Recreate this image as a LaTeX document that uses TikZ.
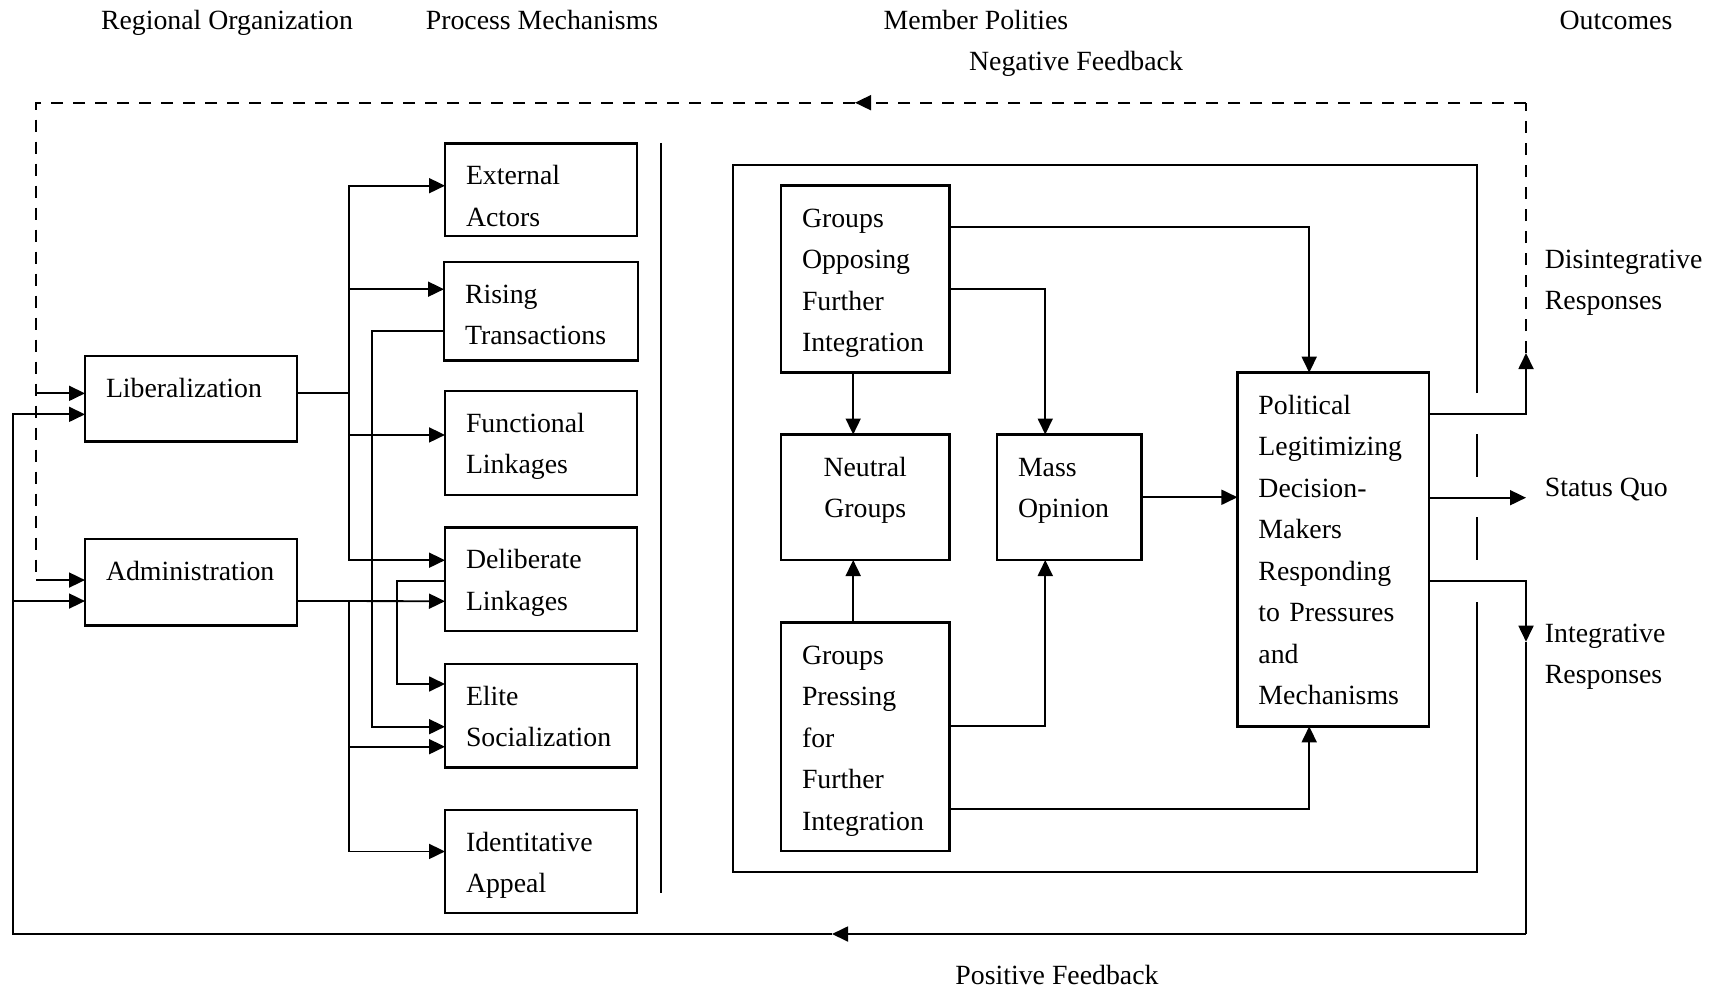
\documentclass[tikz,border=0pt]{standalone}
\usepackage{fontspec}
\setmainfont{Liberation Serif}
\usetikzlibrary{arrows.meta, positioning, calc}

\begin{document}
\begin{tikzpicture}[x=0.5pt, y=-0.5pt, >={Triangle[length=8pt, width=7.5pt]}, line width=0.9pt,
  font=\fontsize{13.9pt}{20.75pt}\selectfont,
  box/.style={draw, line width=1.25pt, align=left, inner xsep=10.5pt, inner ysep=0pt, outer sep=0pt, text height=20.75pt},
  lbl/.style={inner sep=0pt, align=left},
  fbdash/.style={dash pattern=on 6pt off 5pt}]
  \useasboundingbox (0,0) rectangle (1713,990);

  % column headings
  \node [lbl, anchor=base] (hreg) at (227,29.5) {Regional Organization};
  \node [lbl, anchor=base] (hproc) at (542,29.5) {Process Mechanisms};
  \node [lbl, anchor=base] (hmem) at (976,29.5) {Member Polities};
  \node [lbl, anchor=base] (hout) at (1616,29.5) {Outcomes};
  \node [lbl, anchor=base] (negfb) at (1076,70.5) {Negative Feedback};
  \node [lbl, anchor=base] (posfb) at (1057,984) {Positive Feedback};

  % regional organization
  \node [box, minimum width=106pt, minimum height=42.75pt, text width=85pt, text depth=22pt]
    (lib) at (191,398.75) {Liberalization};
  \node [box, minimum width=106pt, minimum height=43.25pt, text width=85pt, text depth=22.5pt,
    below=48.75pt of lib] (adm) {Administration};

  % process mechanisms
  \node [box, minimum width=96pt, minimum height=46.25pt, text width=75pt, text depth=25.5pt] (ext) at (541,189.7) {External\\Actors};
  \node [box, minimum width=97pt, minimum height=49.25pt, text width=76pt, text depth=28.5pt, below=13pt of ext] (ris) {Rising\\Transactions};
  \node [box, minimum width=96pt, minimum height=52pt, text width=75pt, text depth=31.25pt, below=15.25pt of ris] (fun) {Functional\\Linkages};
  \node [box, minimum width=96pt, minimum height=51.75pt, text width=75pt, text depth=31pt, below=16.25pt of fun] (del) {Deliberate\\Linkages};
  \node [box, minimum width=96pt, minimum height=51.75pt, text width=75pt, text depth=31pt, below=16.5pt of del] (eli) {Elite\\Socialization};
  \node [box, minimum width=96pt, minimum height=51.5pt, text width=75pt, text depth=30.75pt, below=21.25pt of eli] (ide) {Identitative\\Appeal};

  \draw (661,143) -- (661,893);

  % member polities
  \node [box, minimum width=84.2pt, minimum height=93.5pt, text width=63.2pt, text depth=72.75pt] (gof) at (865.2,279)
    {Groups\\Opposing\\Further\\Integration};
  \node [box, minimum width=84.2pt, minimum height=62.75pt, text width=63.2pt, text depth=42pt, align=center, below=31pt of gof] (neu)
    {Neutral\\Groups};
  \node [box, minimum width=72.25pt, minimum height=62.75pt, text width=51.25pt, text depth=42pt, right=23.8pt of neu] (mas)
    {Mass\\Opinion};
  \node [box, minimum width=84.2pt, minimum height=114.25pt, text width=63.2pt, text depth=93.5pt, below=31.25pt of neu] (gpf)
    {Groups\\Pressing\\for\\Further\\Integration};
  \node [box, minimum width=95.75pt, minimum height=176.85pt, text width=74.75pt, text depth=156.1pt] (pol) at (1333.2,549.5)
    {Political\\Legitimizing\\Decision-\\Makers\\Responding\\to Pressures\\and\\Mechanisms};

  % frame round the member polities, broken where the outcomes leave
  \draw (1477,393) -- (1477,165) -- (733,165) -- (733,872) -- (1477,872) -- (1477,602);
  \draw (1477,434) -- (1477,477);
  \draw (1477,517) -- (1477,560);

  % outcomes
  \node [lbl, anchor=west] (disr) at (1544,283) {Disintegrative\\Responses};
  \node [lbl, anchor=west] (squo) at (1544,489.2) {Status Quo};
  \node [lbl, anchor=west] (intr) at (1544,656.6) {Integrative\\Responses};

  % liberalization to mechanisms
  \coordinate (libbus) at (349,393);
  \draw (lib.east |- libbus) -- (libbus);
  \draw [->] (libbus) |- ($(ext.west)+(0,-4)$);
  \draw [->] (libbus) |- ($(ris.west)+(0,-22)$);
  \draw [->] (libbus) |- ($(fun.west)+(0,-8)$);
  \draw [->] (libbus) |- ($(del.west)+(0,-19)$);

  % administration to mechanisms
  \coordinate (admbus) at (349,601);
  \draw [->] (adm.east |- admbus) -- ($(del.west)+(0,22)$);
  \draw [->] (admbus) |- ($(eli.west)+(0,31)$);
  \draw [->] (admbus) |- ($(ide.west)+(0,-10)$);

  % mechanisms feeding socialization
  \draw [->] ($(ris.west)+(0,20)$) -- ++(-72,0) |- ($(eli.west)+(0,11)$);
  \draw [->] ($(del.west)+(0,1.5)$) -- ++(-48,0) |- ($(eli.west)+(0,-31.7)$);

  % member polities links
  \draw [->] ($(gof.east)+(0,-52.3)$) -| ($(pol.north)+(-24,0)$);
  \draw [->] ($(gof.east)+(0,10.3)$) -| ($(mas.north)+(-24,0)$);
  \draw [->] ($(gof.south)+(-12,0)$) -- ($(neu.north)+(-12,0)$);
  \draw [->] ($(gpf.north)+(-12,0)$) -- ($(neu.south)+(-12,0)$);
  \draw [->] ($(gpf.east)+(0,-10.7)$) -| ($(mas.south)+(-24,0)$);
  \draw [->] ($(gpf.east)+(0,72.6)$) -| ($(pol.south)+(-24,0)$);
  \draw [->] (mas.east) -- (mas.east -| pol.west);

  % outcome arrows
  \coordinate (dis) at (1526,353);
  \coordinate (sq) at (1526,497.7);
  \coordinate (integ) at (1526,641.7);
  \draw [->] ($(pol.east)+(0,-135.2)$) -| (dis);
  \draw [->] (pol.east |- sq) -- (sq);
  \draw [->] ($(pol.east)+(0,31.2)$) -| (integ);

  % positive feedback
  \coordinate (posR) at (1526,934);
  \coordinate (posMid) at (832,934);
  \coordinate (posL) at (13,934);
  \coordinate (lib2) at ($(lib.west)+(0,15.6)$);
  \coordinate (adm2) at ($(adm.west)+(0,18.8)$);
  \draw (integ) -- (posR);
  \draw [->] (posR) -- (posMid);
  \draw [->] (posMid) -- (posL) |- (lib2);
  \draw [->] (adm2 -| posL) -- (adm2);

  % negative feedback
  \coordinate (negR) at (1526,102.7);
  \coordinate (negMid) at (855,102.7);
  \coordinate (negL) at (36,102.7);
  \coordinate (lib1) at ($(lib.west)+(0,-5.4)$);
  \coordinate (adm1) at ($(adm.west)+(0,-2.2)$);
  \draw [fbdash] (dis) -- (negR);
  \draw [fbdash, ->] (negR) -- (negMid);
  \draw [fbdash] (negMid) -- (negL) -- (negL |- adm1);
  \draw [->] (negL |- lib1) -- (lib1);
  \draw [->] (negL |- adm1) -- (adm1);
\end{tikzpicture}
\end{document}
